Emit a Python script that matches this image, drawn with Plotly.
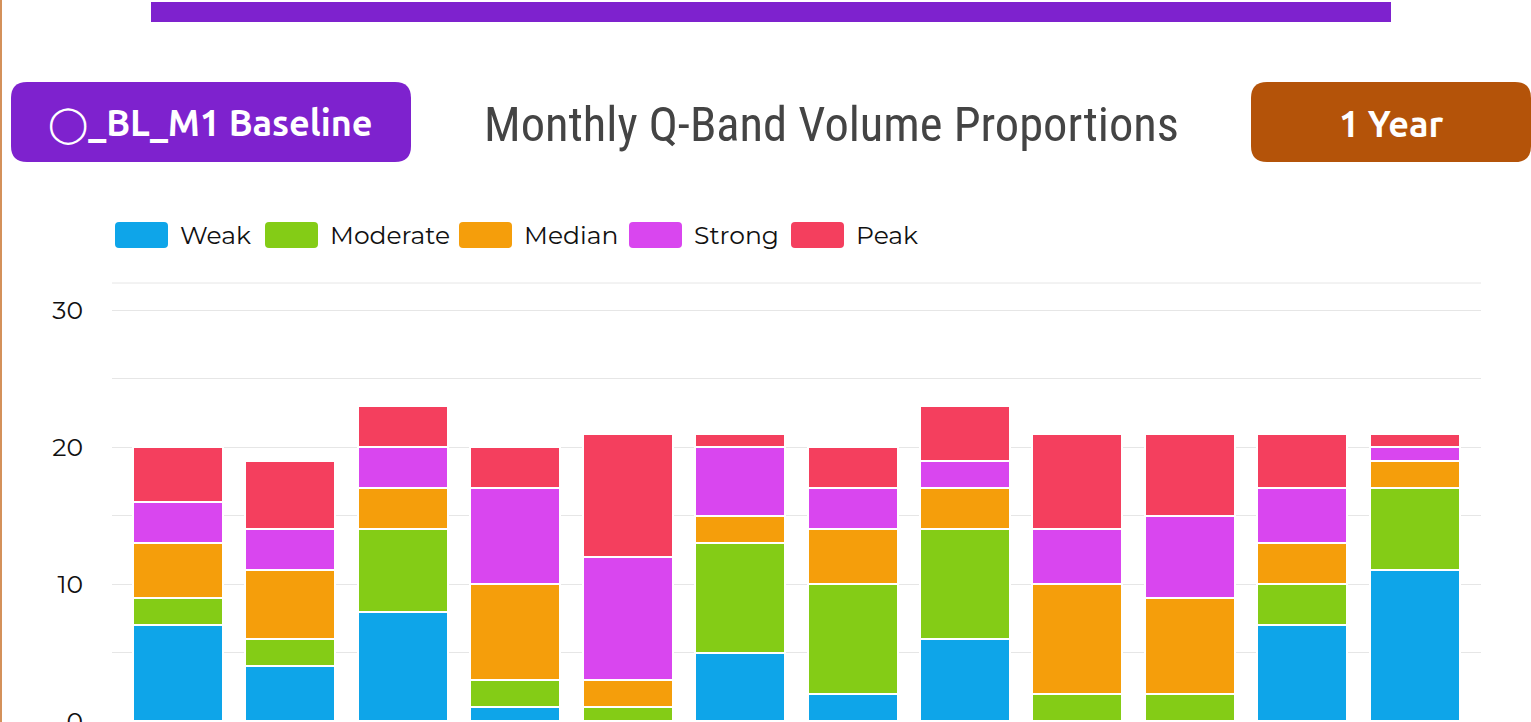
import plotly.graph_objects as go

# ---------------- data ----------------
months = ["Jan", "Feb", "Mar", "Apr", "May", "Jun", "Jul", "Aug", "Sep", "Oct", "Nov", "Dec"]
series_names = ["Weak", "Moderate", "Median", "Strong", "Peak"]
weak = [7, 4, 8, 1, 0, 5, 2, 6, 0, 0, 7, 11]
moderate = [2, 2, 6, 2, 1, 8, 8, 8, 2, 2, 3, 6]
median = [4, 5, 3, 7, 2, 2, 4, 3, 8, 7, 3, 2]
strong = [3, 3, 3, 7, 9, 5, 3, 2, 4, 6, 4, 1]
peak = [4, 5, 3, 3, 9, 1, 3, 4, 7, 6, 4, 1]
series_values = [weak, moderate, median, strong, peak]
series_colors = ["#0EA5E9", "#84CC16", "#F59E0B", "#D946EF", "#F43F5E"]
y_tick_vals = [0, 5, 10, 15, 20, 25, 30]
y_tick_text = ["0", "", "10", "", "20", "", "30"]
title_text = "Monthly Q-Band Volume Proportions"
badge_left = "◯_BL_M1 Baseline"
badge_right = "1 Year"

# ---------------- layout geometry (pixels) ----------------
FIG_W, FIG_H = 1531, 722
L, R, T, B = 112, 1481, 283, 721
PW, PH = R - L, B - T


def px(x):
    return (x - L) / PW


def py(y):
    return (B - y) / PH


def rounded_rect(x0, y0, x1, y1, r):
    """rounded rectangle path in paper coords from pixel box"""
    X = lambda v: px(v)
    Y = lambda v: py(v)
    return (
        f"M {X(x0 + r)} {Y(y0)} L {X(x1 - r)} {Y(y0)} Q {X(x1)} {Y(y0)} {X(x1)} {Y(y0 + r)} "
        f"L {X(x1)} {Y(y1 - r)} Q {X(x1)} {Y(y1)} {X(x1 - r)} {Y(y1)} "
        f"L {X(x0 + r)} {Y(y1)} Q {X(x0)} {Y(y1)} {X(x0)} {Y(y1 - r)} "
        f"L {X(x0)} {Y(y0 + r)} Q {X(x0)} {Y(y0)} {X(x0 + r)} {Y(y0)} Z"
    )


fig = go.Figure()
for name, vals, col in zip(series_names, series_values, series_colors):
    fig.add_trace(
        go.Bar(
            x=months,
            y=vals,
            name=name,
            marker=dict(color=col, line=dict(color="white", width=2)),
            showlegend=False,
        )
    )

shapes = []
annotations = []

# top purple band
shapes.append(dict(type="rect", xref="paper", yref="paper", x0=px(151), x1=px(1391),
                   y0=py(22), y1=py(2), fillcolor="#7E22CE", line=dict(width=0), layer="above"))
# left orange border
shapes.append(dict(type="rect", xref="paper", yref="paper", x0=px(0), x1=px(2),
                   y0=py(FIG_H + 5), y1=py(-5), fillcolor="#D4915A", line=dict(width=0), layer="above"))
# badges
shapes.append(dict(type="path", xref="paper", yref="paper", path=rounded_rect(11, 82, 411, 162, 16),
                   fillcolor="#7E22CE", line=dict(width=0), layer="above"))
shapes.append(dict(type="path", xref="paper", yref="paper", path=rounded_rect(1251, 82, 1531, 162, 16),
                   fillcolor="#B45309", line=dict(width=0), layer="above"))
# top border line of plot area
shapes.append(dict(type="line", xref="paper", yref="paper", x0=0, x1=1, y0=1, y1=1,
                   line=dict(color="#E6E6E6", width=1), layer="below"))

badge_font = dict(family="Ubuntu, DejaVu Sans, Open Sans", size=36, color="white")
annotations.append(dict(text=f"<b>{badge_left}</b>", xref="paper", yref="paper", x=px(210), y=py(123),
                        xanchor="center", yanchor="middle", showarrow=False, font=badge_font))
annotations.append(dict(text=f"<b>{badge_right}</b>", xref="paper", yref="paper", x=px(1391), y=py(123),
                        xanchor="center", yanchor="middle", showarrow=False, font=badge_font))
annotations.append(dict(text=title_text, xref="paper", yref="paper", x=px(831), y=py(125),
                        xanchor="center", yanchor="middle", showarrow=False,
                        font=dict(family="Roboto Condensed, Liberation Sans Narrow, DejaVu Sans Condensed, Roboto",
                                  size=48.5, color="#444444")))

# custom legend
legend_box_x = [115, 265, 459, 629, 791]
for name, col, bx in zip(series_names, series_colors, legend_box_x):
    shapes.append(dict(type="path", xref="paper", yref="paper", path=rounded_rect(bx, 222, bx + 53, 248, 4),
                       fillcolor=col, line=dict(width=0), layer="above"))
    annotations.append(dict(text=name, xref="paper", yref="paper", x=px(bx + 63), y=py(235),
                            xanchor="left", yanchor="middle", showarrow=False,
                            font=dict(family="Montserrat, Noto Sans, Lato", size=25, color="#111111")))

fig.update_layout(
    width=FIG_W,
    height=FIG_H,
    margin=dict(l=L, r=FIG_W - R, t=T, b=FIG_H - B, autoexpand=False),
    paper_bgcolor="white",
    plot_bgcolor="white",
    barmode="stack",
    bargap=0.2,
    shapes=shapes,
    annotations=annotations,
    showlegend=False,
    font=dict(family="Montserrat, Noto Sans, Lato", color="#111111"),
)
fig.update_xaxes(range=[-0.587, 11.59], showgrid=False, zeroline=False, showline=False,
                 showticklabels=False)
fig.update_yaxes(range=[0, 32], tickvals=y_tick_vals, ticktext=y_tick_text,
                 showgrid=True, gridcolor="#E6E6E6", gridwidth=1, zeroline=False, showline=False,
                 ticklabelstandoff=28, ticklabeloverflow="allow",
                 tickfont=dict(size=25, color="#111111"))

fig.write_html("out.html", config={"displayModeBar": False},
               post_script="document.body.style.margin='0';document.body.style.overflow='hidden';")
